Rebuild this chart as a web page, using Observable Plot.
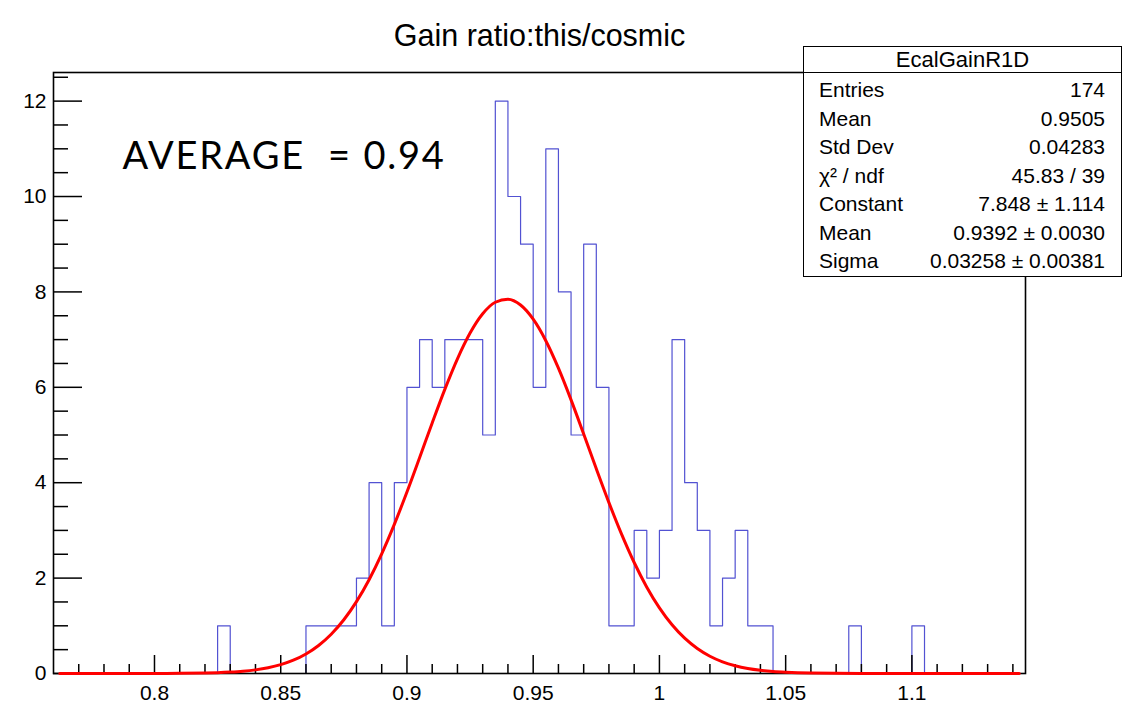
<!DOCTYPE html>
<html><head><meta charset="utf-8">
<script src="https://cdn.jsdelivr.net/npm/d3@7"></script>
<script src="https://cdn.jsdelivr.net/npm/@observablehq/plot@0.6"></script>
<style>
body{margin:0;background:#fff;}
#wrap{position:relative;width:1137px;height:704px;background:#fff;font-family:"Liberation Sans",Arial,sans-serif;overflow:hidden;}
#stats{position:absolute;left:803px;top:46px;width:319px;height:231px;box-sizing:border-box;border:1.5px solid #000;background:#fff;color:#000;}
#stats .hd{height:25px;line-height:25px;border-bottom:1.5px solid #000;text-align:center;font-size:22px;}
#stats .rows{padding-top:3px;}
#stats .row{display:flex;justify-content:space-between;height:28.5px;line-height:28.5px;font-size:21px;padding:0 16px 0 15px;}
</style></head>
<body><div id="wrap"></div>
<script>
// ---- data ----
const title = "Gain ratio:this/cosmic";
const annotation = "AVERAGE  = 0.94";
const histName = "EcalGainR1D";
const statLabels = ["Entries", "Mean", "Std Dev", "χ² / ndf", "Constant", "Mean", "Sigma"];
const statValues = ["174", "0.9505", "0.04283", "45.83 / 39", "7.848 ± 1.114", "0.9392 ± 0.0030", "0.03258 ± 0.00381"];

const xRange = [0.76, 1.145];
const binWidth = 0.005;
const binLow = [0.825, 0.86, 0.865, 0.87, 0.875, 0.88, 0.885, 0.89, 0.895, 0.9, 0.905, 0.91, 0.915, 0.92,
  0.925, 0.93, 0.935, 0.94, 0.945, 0.95, 0.955, 0.96, 0.965, 0.97, 0.975, 0.98, 0.985, 0.99, 0.995,
  1.0, 1.005, 1.01, 1.015, 1.02, 1.025, 1.03, 1.035, 1.04, 1.075, 1.1];
const counts = [1, 1, 1, 1, 1, 2, 4, 1, 4, 6, 7, 6, 7, 7,
  7, 5, 12, 10, 9, 6, 11, 8, 5, 9, 6, 1, 1, 3, 2,
  3, 7, 4, 3, 1, 2, 3, 1, 1, 1, 1];

const fitX = [0.7625, 0.78, 0.80, 0.81, 0.82, 0.825, 0.83, 0.835, 0.84, 0.845, 0.85, 0.855, 0.86, 0.865,
  0.87, 0.875, 0.88, 0.885, 0.89, 0.895, 0.90, 0.905, 0.91, 0.915, 0.92, 0.925, 0.93, 0.935, 0.94,
  0.945, 0.95, 0.955, 0.96, 0.965, 0.97, 0.975, 0.98, 0.985, 0.99, 0.995, 1.00, 1.005, 1.01, 1.015,
  1.02, 1.025, 1.03, 1.035, 1.04, 1.045, 1.05, 1.06, 1.08, 1.10, 1.12, 1.1425];
const fitY = [0, 0, 0.001, 0.003, 0.010, 0.017, 0.029, 0.047, 0.076, 0.120, 0.185, 0.278, 0.409, 0.587,
  0.823, 1.126, 1.506, 1.967, 2.510, 3.127, 3.805, 4.523, 5.252, 5.956, 6.597, 7.137, 7.541, 7.783, 7.846,
  7.725, 7.428, 6.977, 6.401, 5.736, 5.020, 4.291, 3.583, 2.922, 2.327, 1.810, 1.376, 1.021, 0.740, 0.524,
  0.362, 0.245, 0.162, 0.104, 0.066, 0.040, 0.024, 0.008, 0.001, 0, 0, 0];

const xMajor = [0.8, 0.85, 0.9, 0.95, 1.0, 1.05, 1.1];
const xMinor = [0.77, 0.78, 0.79, 0.81, 0.82, 0.83, 0.84, 0.86, 0.87, 0.88, 0.89, 0.91, 0.92, 0.93, 0.94,
  0.96, 0.97, 0.98, 0.99, 1.01, 1.02, 1.03, 1.04, 1.06, 1.07, 1.08, 1.09, 1.11, 1.12, 1.13, 1.14];
const yMajor = [0, 2, 4, 6, 8, 10, 12];
const yMinor = [0.5, 1, 1.5, 2.5, 3, 3.5, 4.5, 5, 5.5, 6.5, 7, 7.5, 8.5, 9, 9.5, 10.5, 11, 11.5, 12.5];
const yMax = 12.6;

// ---- build step table ----
const lookup = new Map(binLow.map((b, i) => [b.toFixed(3), counts[i]]));
const nBins = Math.round((xRange[1] - xRange[0]) / binWidth);
const steps = [];
for (let i = 0; i < nBins; i++) {
  const e = +(xRange[0] + i * binWidth).toFixed(3);
  steps.push({x: e, y: lookup.get(e.toFixed(3)) ?? 0});
}
steps.push({x: xRange[1], y: 0});
const fit = fitX.map((x, i) => ({x, y: fitY[i]}));

const W = 1137, H = 704, mL = 53, mR = 112, mT = 72, mB = 31;
const plotW = W - mL - mR, plotH = H - mT - mB;

const chart = Plot.plot({
  width: W, height: H,
  marginLeft: mL, marginRight: mR, marginTop: mT, marginBottom: mB,
  style: {fontFamily: "'Liberation Sans', Arial, sans-serif", fontSize: "21px", color: "#000", background: "#fff"},
  x: {domain: xRange, label: null},
  y: {domain: [0, yMax], label: null},
  marks: [
    Plot.line(steps, {x: "x", y: "y", curve: "step-after", stroke: "#5252d2", strokeWidth: 1.2}),
    Plot.frame({stroke: "#000", strokeWidth: 1.6}),
    Plot.ruleX(xMajor, {insetTop: plotH - 18, stroke: "#000", strokeWidth: 1.5}),
    Plot.ruleX(xMinor, {insetTop: plotH - 9, stroke: "#000", strokeWidth: 1.5}),
    Plot.ruleY(yMajor, {insetRight: plotW - 29, stroke: "#000", strokeWidth: 1.5}),
    Plot.ruleY(yMinor, {insetRight: plotW - 15, stroke: "#000", strokeWidth: 1.5}),
    Plot.line(fit, {x: "x", y: "y", stroke: "#ff0000", strokeWidth: 3, curve: "monotone-x"}),
    Plot.axisX(xMajor, {tickSize: 0, tickPadding: 12, tickFormat: d => String(d), fontSize: 21, fill: "#000", label: null}),
    Plot.axisY(yMajor, {tickSize: 0, tickPadding: 7, tickFormat: d => String(d), fontSize: 21, fill: "#000", label: null}),
    Plot.text([title], {frameAnchor: "top", dy: -48, fontSize: 30.5, fill: "#000"}),
    Plot.text([annotation], {frameAnchor: "top-left", textAnchor: "start", dx: 69, dy: 70, fontSize: 38,
      fontFamily: "Lato, 'Open Sans', sans-serif", fill: "#000"})
  ]
});

// widen the annotation's letter spacing to match the reference font's width
d3.select(chart).selectAll("text").filter(function () { return this.textContent === annotation; })
  .style("letter-spacing", "1.8px");

const wrap = document.getElementById("wrap");
wrap.appendChild(chart);

const stats = document.createElement("div");
stats.id = "stats";
const hd = document.createElement("div");
hd.className = "hd";
hd.textContent = histName;
stats.appendChild(hd);
const rows = document.createElement("div");
rows.className = "rows";
statLabels.forEach((lab, i) => {
  const r = document.createElement("div");
  r.className = "row";
  const a = document.createElement("span"); a.textContent = lab;
  const b = document.createElement("span"); b.textContent = statValues[i];
  r.appendChild(a); r.appendChild(b);
  rows.appendChild(r);
});
stats.appendChild(rows);
wrap.appendChild(stats);
</script>
</body></html>
